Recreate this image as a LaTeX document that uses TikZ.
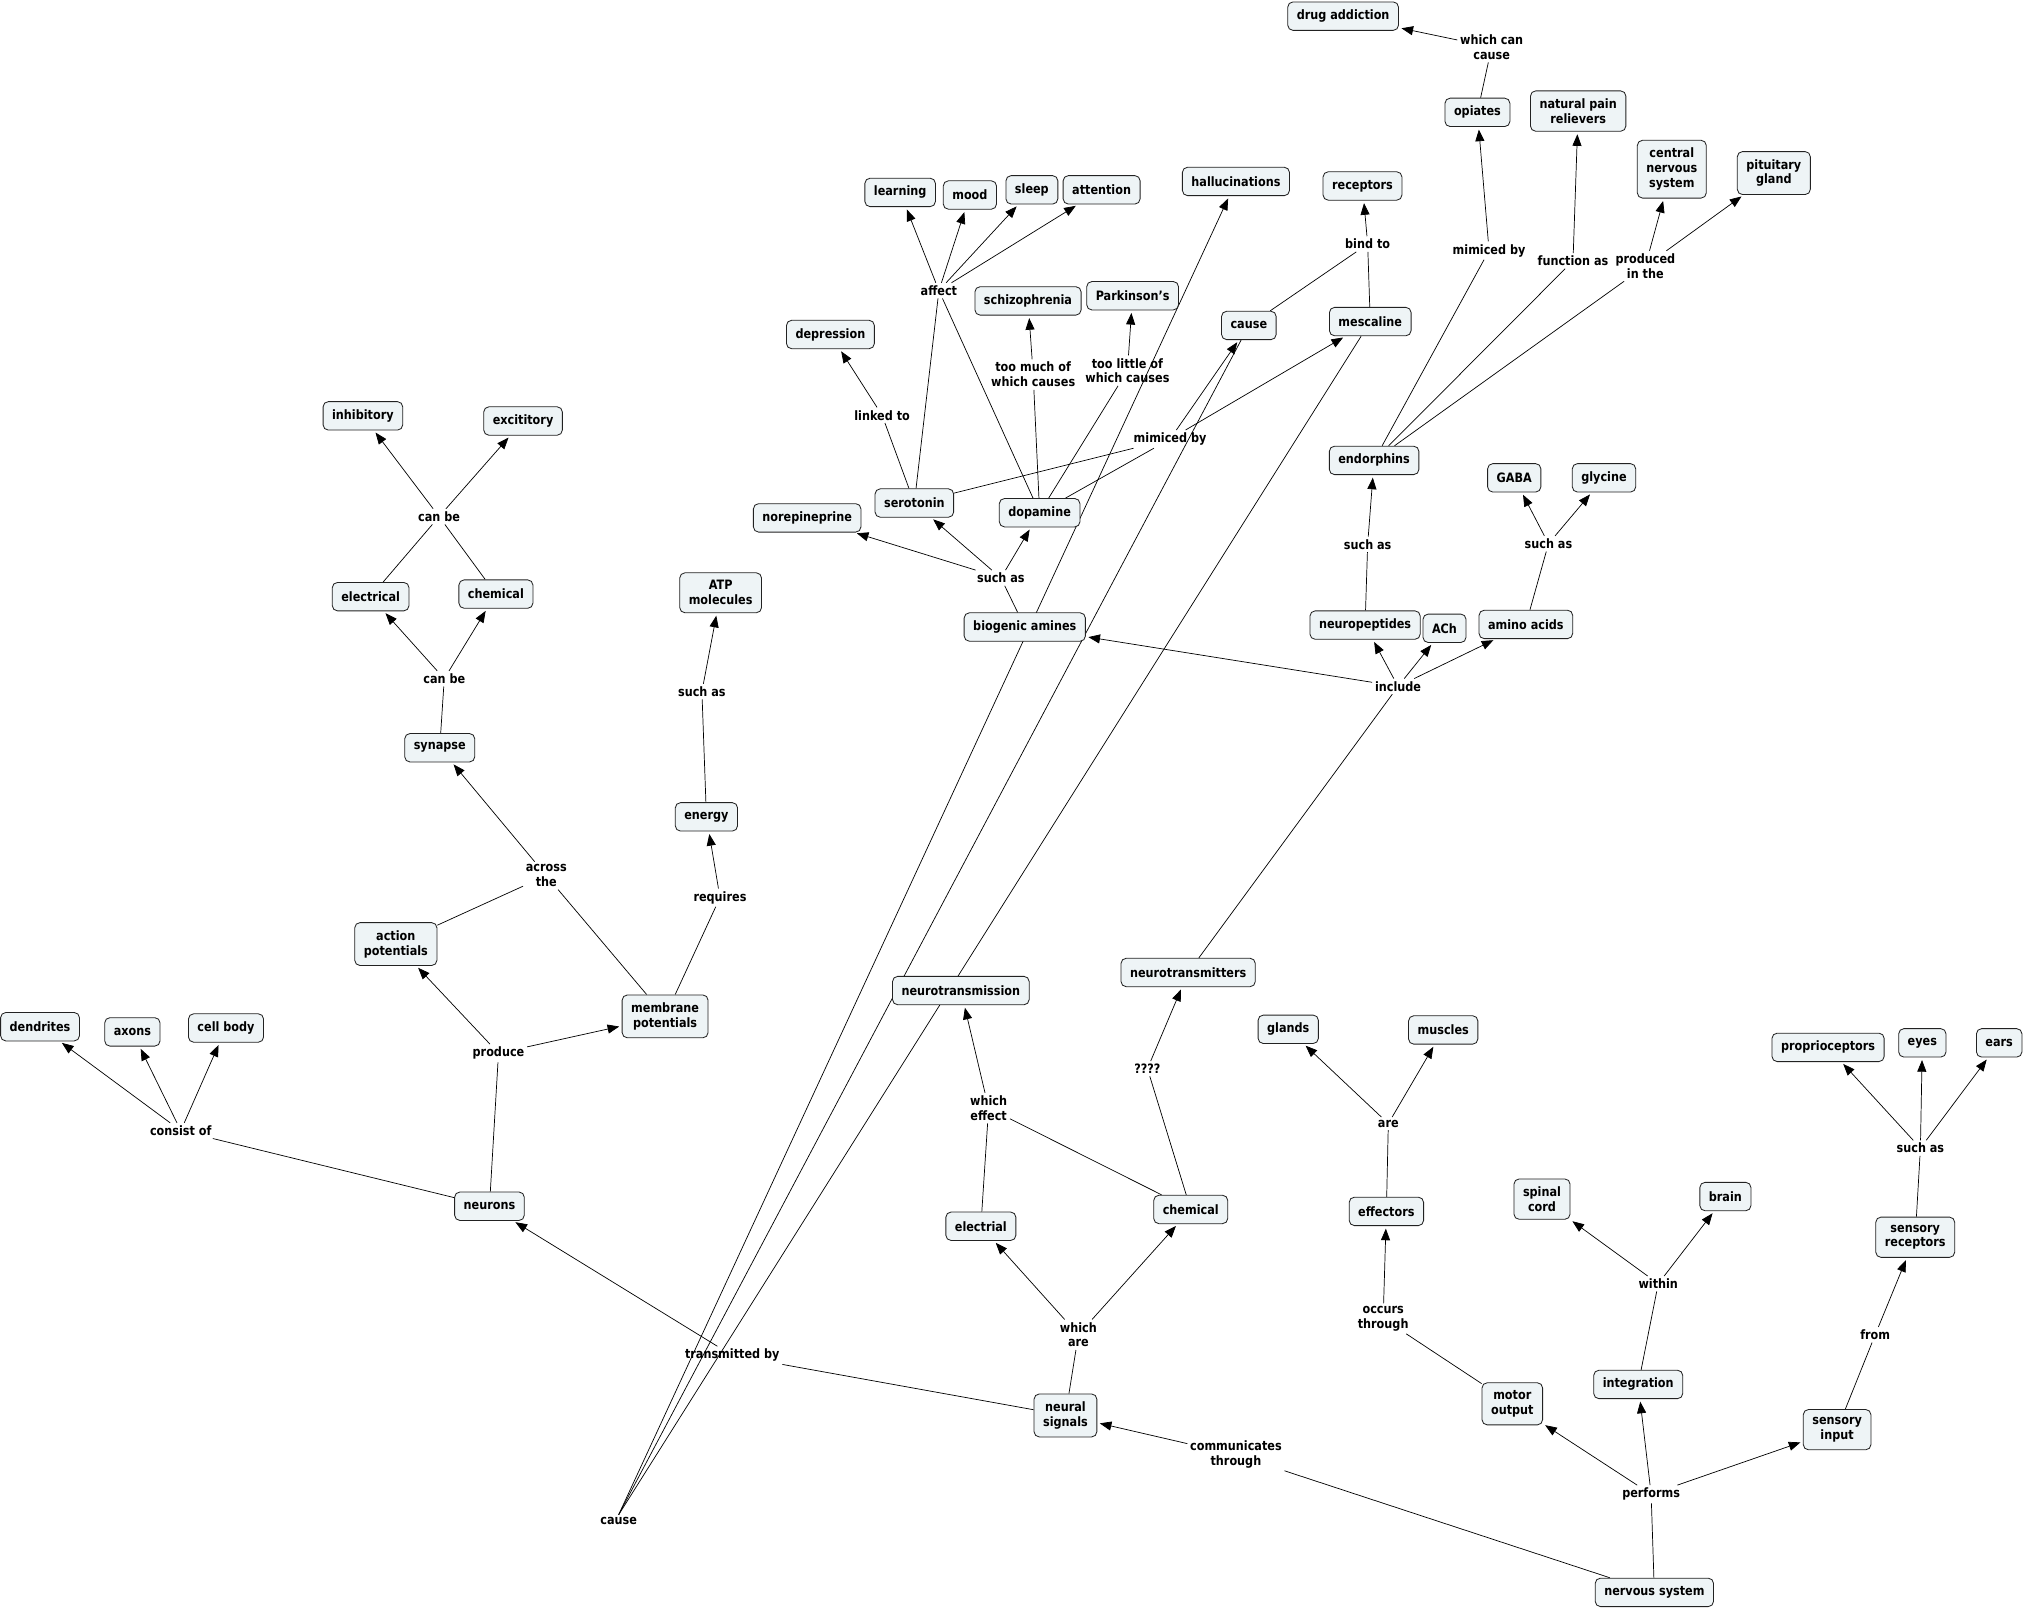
\documentclass[tikz,border=0pt]{standalone}
\usepackage{fontspec}
\setmainfont{DejaVu Sans}[FakeStretch=0.87]
\usetikzlibrary{arrows.meta,backgrounds}
\definecolor{cmapfill}{HTML}{EEF4F6}
\definecolor{cmapline}{HTML}{222222}
\newcommand{\mapfont}{\bfseries\fontsize{10}{11.5}\selectfont}

\begin{document}
\begin{tikzpicture}[x=1pt,y=-1pt,
  concept/.style={draw=cmapline,fill=cmapfill,rounded corners=4pt,line width=0.65pt,
    inner xsep=7pt,inner ysep=6pt,minimum height=22pt,align=center,font=\mapfont},
  phrase/.style={inner sep=2pt,align=center,font=\mapfont},
  link/.style={draw=black,line width=0.55pt},
  arr/.style={link,-{Triangle[length=9pt,width=7pt]},shorten >=2pt}]
\useasboundingbox (0,0) rectangle (1568,1245);
% Top: endorphins, opiates, mescaline
\node[concept] (addiction) at (1040,12.5) {drug addiction};
\node[phrase] (cancause) at (1155,36.5) {which can\\cause};
\node[concept] (opiates) at (1144,87) {opiates};
\node[concept] (painrel) at (1222,86) {natural pain\\relievers};
\node[concept] (cns) at (1294.5,131) {central\\nervous\\system};
\node[concept] (pituitary) at (1373.5,134) {pituitary\\gland};
\node[concept] (receptors) at (1055,144) {receptors};
\node[phrase] (bindto) at (1059,189) {bind to};
\node[phrase] (mimic2) at (1153,194) {mimiced by};
\node[phrase] (funcas) at (1218,202) {function as};
\node[phrase] (prodin) at (1274,206) {produced\\in the};
\node[concept] (halluc) at (957,140.5) {hallucinations};
\node[concept] (causebox) at (967,252) {cause};
\node[concept] (mescaline) at (1061,249) {mescaline};
\node[phrase] (mimic1) at (906,340) {mimiced by};
\node[concept] (endorphins) at (1064,356.5) {endorphins};
% Biogenic amines
\node[concept] (learning) at (697,149) {learning};
\node[concept] (mood) at (751,151) {mood};
\node[concept] (sleep) at (799,147) {sleep};
\node[concept] (attention) at (853,147) {attention};
\node[phrase] (affect) at (727,225) {affect};
\node[concept] (schizo) at (796,233) {schizophrenia};
\node[concept] (parkinson) at (877,229) {Parkinson's};
\node[concept] (depression) at (643,259) {depression};
\node[phrase] (toomuch) at (800,290) {too much of\\which causes};
\node[phrase] (toolittle) at (873,287) {too little of\\which causes};
\node[phrase] (linked) at (683,321.5) {linked to};
\node[concept] (serotonin) at (708,389.5) {serotonin};
\node[concept] (dopamine) at (805,397) {dopamine};
\node[concept] (norepi) at (625,401) {norepineprine};
\node[phrase] (suchasB) at (775,447.5) {such as};
\node[concept] (biogenic) at (793.5,485.5) {biogenic amines};
% Neurotransmitters
\node[concept] (gaba) at (1172.5,370) {GABA};
\node[concept] (glycine) at (1242,370) {glycine};
\node[phrase] (suchasN) at (1059,421.5) {such as};
\node[phrase] (suchasA) at (1199,421) {such as};
\node[concept] (neuropep) at (1057,484) {neuropeptides};
\node[concept] (ach) at (1118.5,486.5) {ACh};
\node[concept] (amino) at (1181.5,483.5) {amino acids};
\node[phrase] (include) at (1082.5,531.5) {include};
\node[concept] (ntters) at (920,753) {neurotransmitters};
% Synapse
\node[concept] (inhib) at (281,322) {inhibitory};
\node[concept] (excit) at (405,326) {excititory};
\node[phrase] (canbeA) at (340,400) {can be};
\node[concept] (elecA) at (287,462) {electrical};
\node[concept] (chemA) at (384,460) {chemical};
\node[phrase] (canbeB) at (344,525.5) {can be};
\node[concept] (synapse) at (340.5,579) {synapse};
\node[phrase] (across) at (423,678) {across\\the};
\node[concept] (actpot) at (306.5,731) {action\\potentials};
\node[concept] (mempot) at (515,787) {membrane\\potentials};
\node[concept] (atp) at (558,459) {ATP\\molecules};
\node[phrase] (suchasE) at (543.5,535.5) {such as};
\node[concept] (energy) at (547,632.5) {energy};
\node[phrase] (requires) at (557.5,695) {requires};
% Neurons
\node[concept] (dendrites) at (31,795) {dendrites};
\node[concept] (axons) at (102.5,799) {axons};
\node[concept] (cellbody) at (175,796) {cell body};
\node[phrase] (produce) at (386,815.5) {produce};
\node[phrase] (consist) at (140,875.5) {consist of};
\node[concept] (neurons) at (379,934) {neurons};
% Neural signals
\node[concept] (ntrans) at (744,767) {neurotransmission};
\node[phrase] (unknown) at (888.5,827.5) {????};
\node[phrase] (effect) at (765.5,858) {which\\effect};
\node[concept] (elecB) at (759.5,949.5) {electrial};
\node[concept] (chemB) at (922,936.5) {chemical};
\node[phrase] (whichare) at (835,1033.5) {which\\are};
\node[phrase] (transby) at (567,1049.5) {transmitted by};
\node[concept] (signals) at (825,1096) {neural\\signals};
\node[phrase] (commun) at (957,1126.5) {communicates\\through};
\node[phrase] (causelbl) at (479,1178) {cause};
% Nervous system
\node[concept] (glands) at (997.5,797) {glands};
\node[concept] (muscles) at (1117.5,797.5) {muscles};
\node[phrase] (are) at (1075,870) {are};
\node[concept] (effectors) at (1073.5,938) {effectors};
\node[phrase] (occurs) at (1071,1021) {occurs\\through};
\node[concept] (motor) at (1171,1087) {motor\\output};
\node[concept] (spinal) at (1194,928.5) {spinal\\cord};
\node[concept] (brain) at (1336,926.5) {brain};
\node[phrase] (within) at (1284,994) {within};
\node[concept] (integration) at (1268.5,1072) {integration};
\node[concept] (proprio) at (1415.5,811) {proprioceptors};
\node[concept] (eyes) at (1488.5,807.5) {eyes};
\node[concept] (ears) at (1548,807.5) {ears};
\node[phrase] (suchasS) at (1487,889) {such as};
\node[concept] (sensrec) at (1483,958) {sensory\\receptors};
\node[phrase] (from) at (1452,1033.5) {from};
\node[concept] (sensin) at (1422.5,1107) {sensory\\input};
\node[phrase] (performs) at (1278.5,1157) {performs};
\node[concept] (nervsys) at (1281,1233) {nervous system};
\begin{pgfonlayer}{background}
\fill[white] (0,0) rectangle (1568,1245);
% Endorphins and mescaline links
\path (opiates) edge[link] (cancause) (cancause) edge[arr] (addiction);
\path (endorphins) edge[link] (mimic2) edge[link] (funcas) edge[link] (prodin);
\path (mimic2) edge[arr] (opiates);
\path (funcas) edge[arr] (painrel);
\path (prodin) edge[arr] (cns) edge[arr] (pituitary);
\path (mescaline) edge[link] (bindto) (causebox) edge[link] (bindto);
\path (bindto) edge[arr] (receptors);
\path (serotonin) edge[link] (mimic1) (dopamine) edge[link] (mimic1);
\path (mimic1) edge[arr] (mescaline) edge[arr] (causebox);
\path (causebox) edge[link] (causelbl.north) (mescaline) edge[link] (causelbl.north);
\path (causelbl.north) edge[arr] (halluc);
% Biogenic amines links
\path (serotonin) edge[link] (affect) (dopamine) edge[link] (affect);
\path (affect) edge[arr] (learning) edge[arr] (mood) edge[arr] (sleep) edge[arr] (attention);
\path (serotonin) edge[link] (linked) (linked) edge[arr] (depression);
\path (dopamine) edge[link] (toomuch) edge[link] (toolittle);
\path (toomuch) edge[arr] (schizo) (toolittle) edge[arr] (parkinson);
\path (biogenic) edge[link] (suchasB);
\path (suchasB) edge[arr] (norepi) edge[arr] (serotonin) edge[arr] (dopamine);
% Neurotransmitters links
\path (ntters) edge[link] (include);
\path (include) edge[arr] (biogenic) edge[arr] (neuropep) edge[arr] (ach) edge[arr] (amino);
\path (neuropep) edge[link] (suchasN) (suchasN) edge[arr] (endorphins);
\path (amino) edge[link] (suchasA);
\path (suchasA) edge[arr] (gaba) edge[arr] (glycine);
% Synapse links
\path (synapse) edge[link] (canbeB);
\path (canbeB) edge[arr] (elecA) edge[arr] (chemA);
\path (elecA) edge[link] (canbeA) (chemA) edge[link] (canbeA);
\path (canbeA) edge[arr] (inhib) edge[arr] (excit);
\path (mempot) edge[link] (across) (actpot) edge[link] (across);
\path (across) edge[arr] (synapse);
\path (mempot) edge[link] (requires) (requires) edge[arr] (energy);
\path (energy) edge[link] (suchasE) (suchasE) edge[arr] (atp);
% Neurons links
\path (neurons) edge[link] (produce);
\path (produce) edge[arr] (actpot) edge[arr] (mempot);
\path (neurons) edge[link] (consist);
\path (consist) edge[arr] (dendrites) edge[arr] (axons) edge[arr] (cellbody);
% Neural signals links
\path (signals) edge[link] (transby) (transby) edge[arr] (neurons);
\path (signals) edge[link] (whichare);
\path (whichare) edge[arr] (elecB) edge[arr] (chemB);
\path (elecB) edge[link] (effect) (chemB) edge[link] (effect);
\path (effect) edge[arr] (ntrans);
\path (chemB) edge[link] (unknown) (unknown) edge[arr] (ntters);
% Nervous system links
\path (nervsys) edge[link] (commun) (commun) edge[arr] (signals);
\path (nervsys) edge[link] (performs);
\path (performs) edge[arr] (motor) edge[arr] (integration) edge[arr] (sensin);
\path (motor) edge[link] (occurs) (occurs) edge[arr] (effectors);
\path (effectors) edge[link] (are);
\path (are) edge[arr] (glands) edge[arr] (muscles);
\path (integration) edge[link] (within);
\path (within) edge[arr] (spinal) edge[arr] (brain);
\path (sensin) edge[link] (from) (from) edge[arr] (sensrec);
\path (sensrec) edge[link] (suchasS);
\path (suchasS) edge[arr] (proprio) edge[arr] (eyes) edge[arr] (ears);
\end{pgfonlayer}
\end{tikzpicture}
\end{document}
